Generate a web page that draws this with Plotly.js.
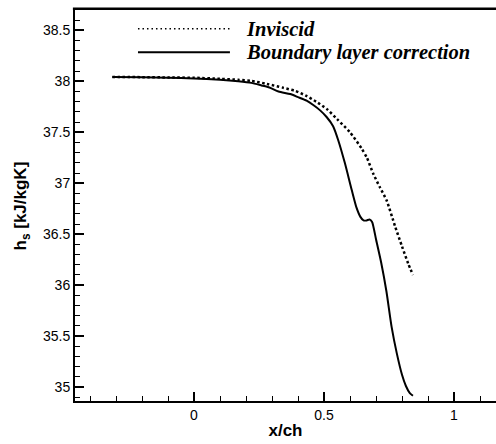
<!DOCTYPE html>
<html>
<head>
<meta charset="utf-8">
<script src="https://cdn.plot.ly/plotly-3.0.1.min.js"></script>
<style>html,body{margin:0;padding:0;background:#fff;overflow:hidden;width:496px;height:444px;}#chart{width:520px;height:444px;}</style>
</head>
<body>
<div id="chart"></div>
<script>
// Inviscid (dotted)
const xInviscid = [-0.314, -0.2, -0.1, 0.0, 0.1, 0.17, 0.22, 0.28, 0.343, 0.39, 0.43, 0.47, 0.51, 0.55, 0.6, 0.645, 0.665, 0.69, 0.715, 0.741, 0.773, 0.80, 0.824, 0.842];
const yInviscid = [38.043, 38.041, 38.038, 38.035, 38.025, 38.015, 38.005, 37.975, 37.937, 37.905, 37.86, 37.80, 37.73, 37.63, 37.50, 37.34, 37.25, 37.09, 36.96, 36.83, 36.58, 36.38, 36.21, 36.10];
// Boundary layer correction (solid)
const xBL = [-0.314, -0.2, -0.1, 0.0, 0.1, 0.17, 0.22, 0.26, 0.29, 0.325, 0.37, 0.40, 0.433, 0.46, 0.485, 0.51, 0.535, 0.555, 0.58, 0.607, 0.625, 0.64, 0.652, 0.664, 0.675, 0.685, 0.70, 0.72, 0.74, 0.76, 0.78, 0.80, 0.815, 0.83, 0.842];
const yBL = [38.043, 38.040, 38.035, 38.028, 38.015, 38.0, 37.985, 37.96, 37.94, 37.90, 37.875, 37.845, 37.81, 37.765, 37.715, 37.65, 37.56, 37.42, 37.20, 36.93, 36.76, 36.67, 36.635, 36.635, 36.645, 36.62, 36.45, 36.22, 35.94, 35.59, 35.33, 35.12, 35.01, 34.94, 34.915];
const seriesNames = ["Inviscid", "Boundary layer correction"];
const xTitle = "x/ch";
const yTitle = "h<sub>s</sub> [kJ/kgK]";

const traces = [
  {x: xInviscid, y: yInviscid, type: 'scatter', mode: 'lines', name: seriesNames[0],
   line: {color: 'black', width: 2.5, dash: '2.5px,2.5px', shape: 'spline', smoothing: 0.6}, showlegend: false},
  {x: xBL, y: yBL, type: 'scatter', mode: 'lines', name: seriesNames[1],
   line: {color: 'black', width: 2, shape: 'spline', smoothing: 0.6}, showlegend: false}
];

const legY1 = 0.9522, legY2 = 0.8917;
const legFont = {family: 'Liberation Serif, Times New Roman, serif', size: 20.5, weight: 'bold', style: 'italic', color: 'black'};
const layout = {
  width: 520, height: 444,
  margin: {l: 75, r: 24, t: 10, b: 43, pad: 0},
  paper_bgcolor: 'white', plot_bgcolor: 'white',
  font: {family: 'Liberation Sans, Arial, sans-serif', color: 'black', size: 14},
  xaxis: {
    range: [-0.4577, 1.1615], dtick: 0.5, tick0: 0,
    showgrid: false, zeroline: false,
    showline: true, linecolor: 'black', linewidth: 2, mirror: false,
    ticks: 'inside', ticklen: 9, tickwidth: 2, tickcolor: 'black',
    minor: {dtick: 0.1, ticks: 'inside', ticklen: 5, tickwidth: 1, tickcolor: 'black', showgrid: false},
    tickfont: {size: 14},
    title: {text: xTitle, font: {size: 17, weight: 'bold'}, standoff: 2}
  },
  yaxis: {
    range: [34.863, 38.70], dtick: 0.5, tick0: 0,
    showgrid: false, zeroline: false,
    showline: true, linecolor: 'black', linewidth: 2, mirror: false,
    ticks: 'inside', ticklen: 9, tickwidth: 2, tickcolor: 'black',
    minor: {dtick: 0.1, ticks: 'inside', ticklen: 5, tickwidth: 1, tickcolor: 'black', showgrid: false},
    tickfont: {size: 14}
  },
  shapes: [
    {type: 'line', xref: 'paper', yref: 'paper', x0: -0.005, x1: 1.05, y0: 1.003, y1: 1.003,
     line: {color: 'black', width: 2.5}},
    {type: 'line', xref: 'paper', yref: 'paper', x0: 0.1496, x1: 0.368, y0: legY1, y1: legY1,
     line: {color: 'black', width: 1.5, dash: '1.5px,3px'}},
    {type: 'line', xref: 'paper', yref: 'paper', x0: 0.1496, x1: 0.368, y0: legY2, y1: legY2,
     line: {color: 'black', width: 2}}
  ],
  annotations: [
    {xref: 'paper', yref: 'paper', x: 0.401, y: legY1, xanchor: 'left', yanchor: 'middle', showarrow: false,
     text: seriesNames[0], font: legFont},
    {xref: 'paper', yref: 'paper', x: 0.401, y: legY2, xanchor: 'left', yanchor: 'middle', showarrow: false,
     text: seriesNames[1], font: legFont},
    {xref: 'paper', yref: 'paper', x: -0.1259, y: 0.5, xanchor: 'center', yanchor: 'middle', showarrow: false,
     textangle: -90, text: yTitle, font: {family: 'Liberation Sans, Arial, sans-serif', size: 17, weight: 'bold', color: 'black'}}
  ]
};
Plotly.newPlot('chart', traces, layout, {staticPlot: true, displayModeBar: false});
</script>
</body>
</html>
